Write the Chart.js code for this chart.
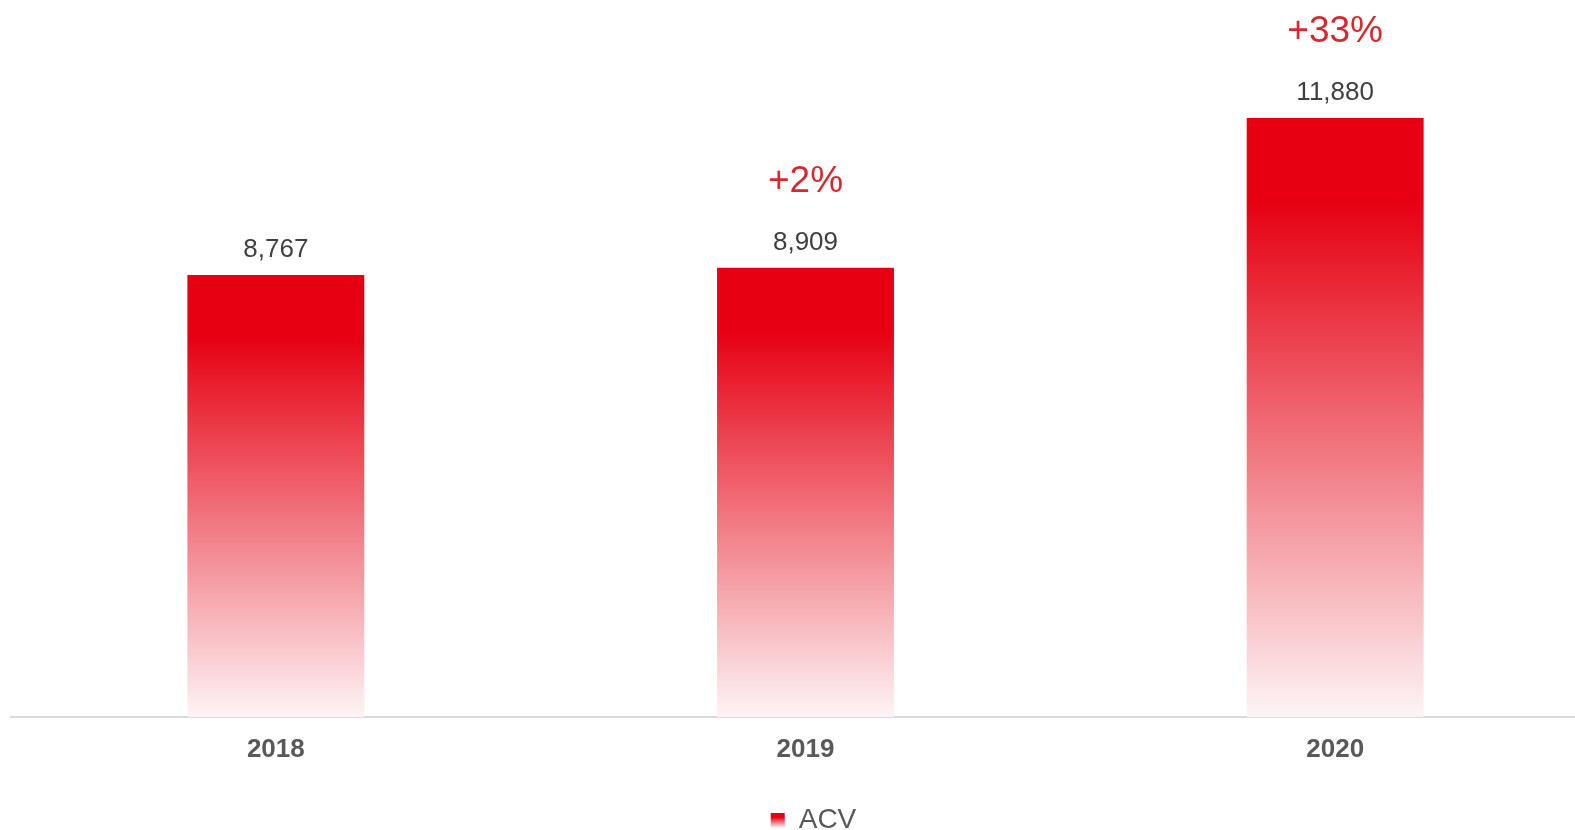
<!DOCTYPE html>
<html>
<head>
<meta charset="utf-8">
<script src="https://cdn.jsdelivr.net/npm/chart.js@4/dist/chart.umd.min.js"></script>
<style>
  html, body { margin: 0; padding: 0; background: #fff; overflow: hidden; }
  #wrap { position: relative; width: 1600px; height: 830px; }
</style>
</head>
<body>
<div id="wrap"><canvas id="chart"></canvas></div>
<script>
// ACV by year, with growth vs previous year
const years = ['2018', '2019', '2020'];
const acvValues = [8767, 8909, 11880];
const growthLabels = ['', '+2%', '+33%'];
const seriesName = 'ACV';

const RED = '#e60012';

function barGradient(ctx) {
  const chart = ctx.chart;
  if (!chart.chartArea || !chart.scales.y) return RED;
  const yScale = chart.scales.y;
  const top = yScale.getPixelForValue(ctx.raw);
  const bottom = yScale.getPixelForValue(0);
  const g = chart.ctx.createLinearGradient(0, top, 0, bottom);
  g.addColorStop(0, RED);
  g.addColorStop(0.14, RED);
  g.addColorStop(1, '#fdf4f5');
  return g;
}

// value + growth labels above each bar
const barLabels = {
  id: 'barLabels',
  afterDatasetsDraw(chart) {
    const c = chart.ctx;
    const meta = chart.getDatasetMeta(0);
    c.save();
    c.textAlign = 'center';
    c.textBaseline = 'alphabetic';
    meta.data.forEach((bar, i) => {
      c.font = '26px "Liberation Sans", Arial, sans-serif';
      c.fillStyle = '#404040';
      c.fillText(acvValues[i].toLocaleString('en-US'), bar.x, bar.y - 18);
      if (growthLabels[i]) {
        c.font = '37px "Liberation Sans", Arial, sans-serif';
        c.fillStyle = '#d6282e';
        c.fillText(growthLabels[i], bar.x, bar.y - 76);
      }
    });
    c.restore();
  }
};

// legend: place it like the original and give the swatch the same fade
const legendTweak = {
  id: 'legendTweak',
  afterLayout(chart) {
    const lg = chart.legend;
    const dy = 824 - (lg.top + lg.bottom) / 2;
    lg.top += dy;
    lg.bottom += dy;
    lg.left += 8;
    lg.right += 8;
  },
  beforeDraw(chart) {
    const lg = chart.legend;
    if (!lg.legendItems || !lg.legendHitBoxes.length) return;
    const hb = lg.legendHitBoxes[0];
    const top = hb.top + (hb.height - 14) / 2;
    const g = chart.ctx.createLinearGradient(0, top, 0, top + 14);
    g.addColorStop(0, RED);
    g.addColorStop(0.3, RED);
    g.addColorStop(1, '#fbe3e5');
    lg.legendItems[0].fillStyle = g;
  }
};

new Chart(document.getElementById('chart'), {
  type: 'bar',
  data: {
    labels: years,
    datasets: [{
      label: seriesName,
      data: acvValues,
      backgroundColor: barGradient,
      borderWidth: 0,
      barPercentage: 1,
      categoryPercentage: 0.334
    }]
  },
  options: {
    responsive: true,
    maintainAspectRatio: false,
    animation: false,
    layout: { padding: { left: 11, top: 11, right: 0, bottom: 0 } },
    scales: {
      x: {
        grid: { display: false, drawTicks: false },
        border: { display: true, color: '#d9d9d9', width: 2 },
        ticks: {
          color: '#595959',
          padding: 17,
          font: { family: '"Liberation Sans", Arial, sans-serif', size: 26, weight: 'bold' }
        },
        afterFit(scale) { scale.height = 73; }
      },
      y: {
        display: false,
        min: 0,
        max: 14000
      }
    },
    plugins: {
      legend: {
        position: 'bottom',
        labels: {
          boxWidth: 14,
          boxHeight: 14,
          padding: 2,
          color: '#595959',
          font: { family: '"Liberation Sans", Arial, sans-serif', size: 28 }
        }
      },
      tooltip: { enabled: false }
    }
  },
  plugins: [barLabels, legendTweak]
});
</script>
</body>
</html>
